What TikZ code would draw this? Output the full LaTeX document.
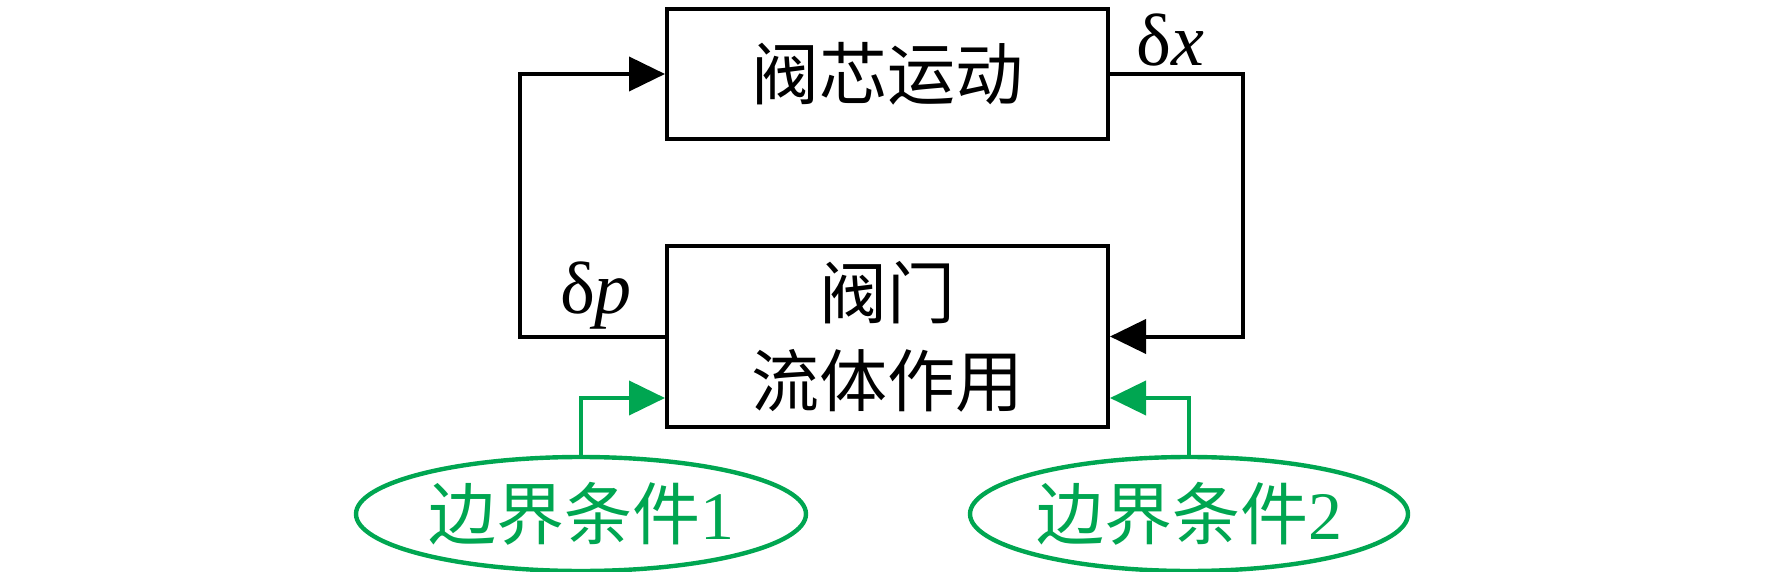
\documentclass[tikz,border=0pt]{standalone}
\usepackage{fontspec}
\setmainfont{Liberation Serif}
\newfontfamily\cjk{Noto Sans CJK SC}
\usetikzlibrary{shapes.geometric,arrows.meta,calc}
\definecolor{grn}{RGB}{0,166,81}
\begin{document}
\begin{tikzpicture}[x=0.5pt,y=-0.5pt,
  blk/.style={draw,line width=2pt,inner sep=0pt,font=\fontsize{34}{44}\selectfont\cjk,align=center},
  ell/.style={draw=grn,ellipse,line width=2.2pt,inner sep=0pt,minimum height=57pt,text=grn,font=\fontsize{34}{40}\selectfont},
  conn/.style={line width=2pt},
  arr/.style={line width=2pt,-{Triangle[length=18pt,width=17pt]}},
  garr/.style={line width=2pt,draw=grn,-{Triangle[length=18pt,width=17pt,fill=grn]}},
  lbl/.style={font=\fontsize{37}{44}\selectfont}]
\useasboundingbox (0,0) rectangle (1772,572);
\node[blk,minimum width=220.5pt,minimum height=65pt] (top) at (887.5,74) {阀芯运动};
\node[blk,minimum width=220.5pt,minimum height=90.5pt] (bot) at (887.5,336.5) {阀门\\流体作用};
\node[ell,minimum width=225pt] (e1) at (581,514) {{\cjk 边界条件}1};
\node[ell,minimum width=219pt] (e2) at (1189,514) {{\cjk 边界条件}2};
\coordinate (rt) at (1243,0);
\coordinate (lf) at (520,0);
\draw[arr] (top.east) -| (rt |- bot.east) -- (bot.east);
\draw[arr] (bot.west) -| (lf |- top.west) -- (top.west);
\draw[garr] (e1.north) |- ($(bot.west)+(0,61.5)$);
\draw[garr] (e2.north) |- ($(bot.east)+(0,61.5)$);
\node[lbl] (dx) at (1170,40) {δ\textit{x}};
\node[lbl] (dp) at (596,296) {δ\textit{p}};
\end{tikzpicture}
\end{document}
